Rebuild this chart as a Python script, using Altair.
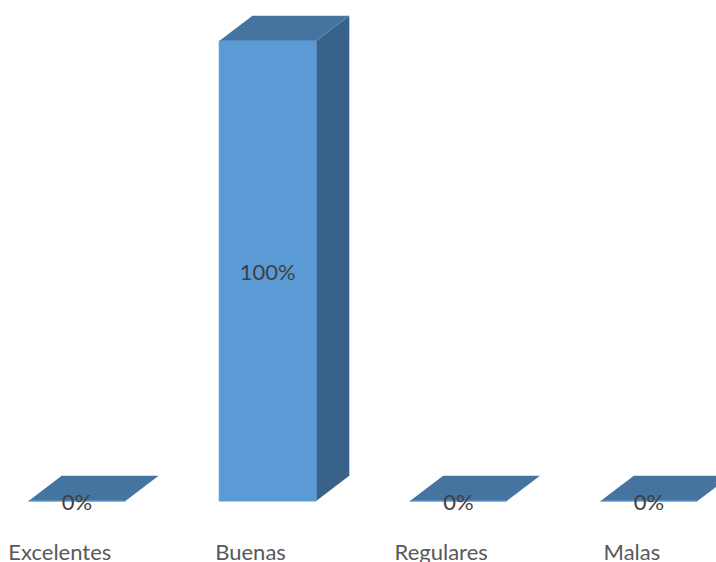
import altair as alt
import pandas as pd

categories = ["Excelentes", "Buenas", "Regulares", "Malas"]
values = [0, 100, 0, 0]
value_labels = ["0%", "100%", "0%", "0%"]

# Box proportions, in the units of the two scales
HALF_WIDTH = 0.254
DEPTH_X = 0.174
DEPTH_Y = 5.5
X_DOMAIN = [-0.4038, 3.351]
Y_DOMAIN = [-13.26, 108.9]
LABEL_SHIFT = -0.09
LABEL_Y = -11.2

rows, tops, sides = [], [], []
for i, (name, v, lab) in enumerate(zip(categories, values, value_labels)):
    left, right = i - HALF_WIDTH, i + HALF_WIDTH
    rows.append({"cat": name, "i": i, "v": v, "base": 0, "left": left, "right": right,
                 "mid": v / 2, "lab": lab, "cat_x": i + LABEL_SHIFT, "cat_y": LABEL_Y})
    # Upper face: a parallelogram receding from the front edge
    tops.append({"cat": name, "y": v, "x1": left, "x2": right})
    tops.append({"cat": name, "y": v + DEPTH_Y, "x1": left + DEPTH_X, "x2": right + DEPTH_X})
    # Right-hand face
    sides.append({"cat": name, "x": right, "y1": 0, "y2": v})
    sides.append({"cat": name, "x": right + DEPTH_X, "y1": DEPTH_Y, "y2": v + DEPTH_Y})

bars = pd.DataFrame(rows)
top_df = pd.DataFrame(tops)
side_df = pd.DataFrame(sides)

x_scale = alt.Scale(domain=X_DOMAIN, nice=False, zero=False)
y_scale = alt.Scale(domain=Y_DOMAIN, nice=False, zero=False)

side = alt.Chart(side_df).mark_area(orient="vertical", color="#386289").encode(
    x=alt.X("x:Q", scale=x_scale, axis=None),
    y=alt.Y("y1:Q", scale=y_scale, axis=None),
    y2="y2:Q",
    detail="cat:N",
)

top = alt.Chart(top_df).mark_area(orient="horizontal", color="#44749F").encode(
    y=alt.Y("y:Q", scale=y_scale, axis=None),
    x=alt.X("x1:Q", scale=x_scale, axis=None),
    x2="x2:Q",
    detail="cat:N",
)

front = alt.Chart(bars).mark_rect(color="#5B9BD5", stroke="#5B9BD5", strokeWidth=1).encode(
    x=alt.X("left:Q", scale=x_scale, axis=None),
    x2="right:Q",
    y=alt.Y("base:Q", scale=y_scale, axis=None),
    y2="v:Q",
)

value_text = alt.Chart(bars).mark_text(
    font="Lato", fontSize=22, color="#404040", baseline="middle", align="center", dy=2
).encode(
    x=alt.X("i:Q", scale=x_scale, axis=None),
    y=alt.Y("mid:Q", scale=y_scale, axis=None),
    text="lab:N",
)

cat_text = alt.Chart(bars).mark_text(
    font="Lato", fontSize=22, color="#595959", baseline="middle", align="center"
).encode(
    x=alt.X("cat_x:Q", scale=x_scale, axis=None),
    y=alt.Y("cat_y:Q", scale=y_scale, axis=None),
    text="cat:N",
)

chart = (
    alt.layer(side, top, front, value_text, cat_text)
    .properties(width=716, height=562, padding=0, background="white",
                autosize=alt.AutoSizeParams(type="none"))
    .configure_view(stroke=None)
)

chart.save("out.html", embed_options={"renderer": "svg", "actions": False})
